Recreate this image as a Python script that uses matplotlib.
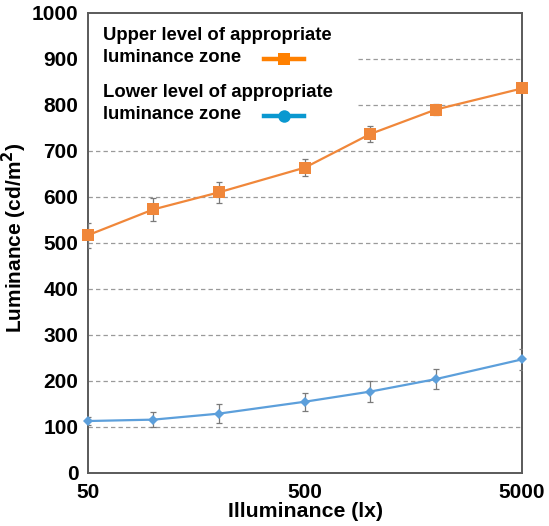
import matplotlib
matplotlib.use("Agg")
import matplotlib.pyplot as plt
from matplotlib.lines import Line2D
from matplotlib.patches import Rectangle
from matplotlib.ticker import FixedLocator, NullLocator, FixedFormatter

plt.rcParams['font.family'] = ['Liberation Sans', 'DejaVu Sans']
plt.rcParams['font.weight'] = 'bold'

illuminance = [50, 100, 200, 500, 1000, 2000, 5000]
upper_level = [517, 573, 610, 664, 737, 790, 836]
upper_err = [27, 25, 22, 19, 18, 12, 8]
lower_level = [113, 116, 129, 155, 177, 204, 247]
lower_err = [8, 17, 21, 20, 22, 22, 22]

x_ticks = [50, 500, 5000]
x_tick_labels = ['50', '500', '5000']
y_ticks = [0, 100, 200, 300, 400, 500, 600, 700, 800, 900, 1000]

legend_labels = ['Upper level of appropriate\nluminance zone',
                 'Lower level of appropriate\nluminance zone']

orange_line = '#F0873A'
blue_line = '#5C9FDB'
orange_key = '#FF8000'
blue_key = '#0A98D0'
spine_col = '#5A5A5A'

fig = plt.figure(figsize=(5.49, 5.26), dpi=100)
ax = fig.add_axes([88/549, 1-473/526, 434/549, 460/526])

ax.set_xscale('log')
ax.set_xlim(50, 5000)
ax.set_ylim(0, 1000)

for y in y_ticks[1:-1]:
    ax.axhline(y, color='#9A9A9A', lw=0.9, ls=(0, (3.5, 2.5)), zorder=1)

# white box behind the key
ax.add_patch(Rectangle((0, 0.745), 0.622, 0.255, transform=ax.transAxes,
                       facecolor='white', edgecolor='none', zorder=2))

ax.errorbar(illuminance, upper_level, yerr=upper_err, fmt='none',
            ecolor='#7A7A7A', elinewidth=0.9, capsize=2.5, capthick=0.9, zorder=3)
ax.errorbar(illuminance, lower_level, yerr=lower_err, fmt='none',
            ecolor='#7A7A7A', elinewidth=0.9, capsize=2.5, capthick=0.9, zorder=3)

ax.plot(illuminance, upper_level, color=orange_line, lw=1.6, marker='s',
        markersize=8, markeredgewidth=0, clip_on=False, zorder=4)
ax.plot(illuminance, lower_level, color=blue_line, lw=1.6, marker='D',
        markersize=5.5, markeredgewidth=0, clip_on=False, zorder=4)

# key: text followed by the line sample
key_rows = [(legend_labels[0], 0.927, 0.901, orange_key, 's', 9),
            (legend_labels[1], 0.803, 0.776, blue_key, 'o', 9)]
for label, ty, hy, col, mk, ms in key_rows:
    ax.text(0.034, ty, label, transform=ax.transAxes, fontsize=13.3,
            fontweight='bold', ha='left', va='center', linespacing=1.33,
            zorder=5)
    ax.add_line(Line2D([0.406, 0.498], [hy, hy], transform=ax.transAxes,
                       color=col, lw=3.2, zorder=5))
    ax.add_line(Line2D([0.452], [hy], transform=ax.transAxes, color=col,
                       marker=mk, markersize=ms, markeredgewidth=0, zorder=6))

ax.xaxis.set_major_locator(FixedLocator(x_ticks))
ax.xaxis.set_major_formatter(FixedFormatter(x_tick_labels))
ax.xaxis.set_minor_locator(NullLocator())
ax.set_yticks(y_ticks)
ax.tick_params(axis='both', length=0, labelsize=15)
ax.tick_params(axis='x', pad=7)
ax.tick_params(axis='y', pad=7)
for lbl in ax.get_xticklabels() + ax.get_yticklabels():
    lbl.set_fontweight('bold')

for sp in ax.spines.values():
    sp.set_color(spine_col)
    sp.set_linewidth(1.4)

ax.set_xlabel('Illuminance (lx)', fontsize=15.3, fontweight='bold', labelpad=0)
ax.set_ylabel('Luminance (cd/m$^\\mathbf{2}$)', fontsize=15, fontweight='bold')
ax.yaxis.set_label_coords(-0.136, 0.512)

fig.savefig('out.png', dpi=100)
